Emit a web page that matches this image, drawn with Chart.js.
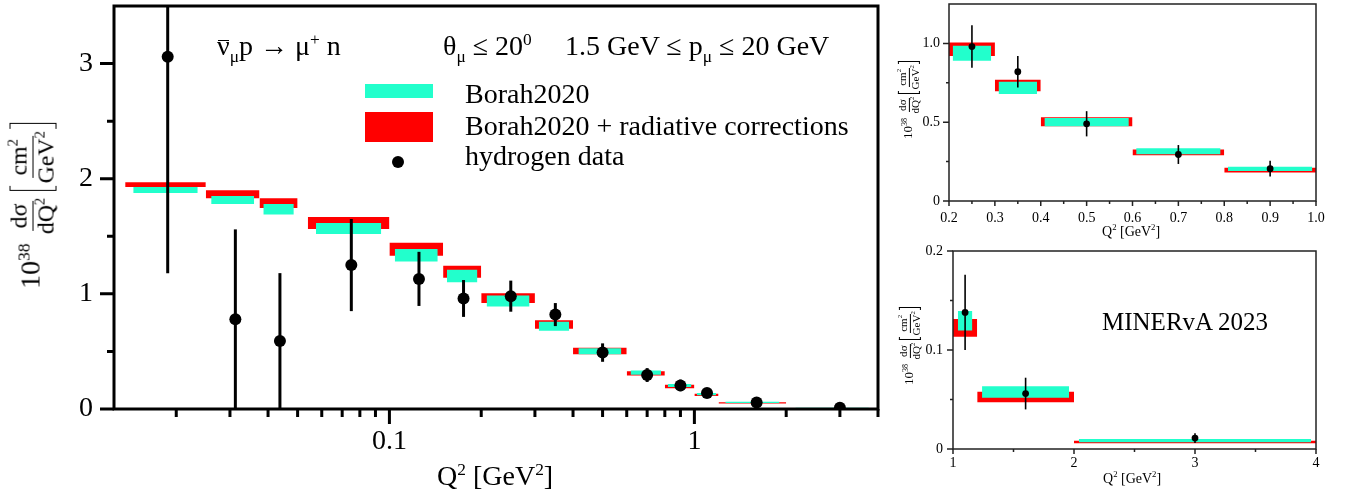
<!DOCTYPE html>
<html><head><meta charset="utf-8">
<script src="https://cdn.jsdelivr.net/npm/chart.js@4/dist/chart.umd.min.js"></script>
<style>
html,body{margin:0;padding:0;background:#fff;}
body{width:1345px;height:493px;position:relative;overflow:hidden;font-family:"Liberation Serif","Times New Roman",serif;color:#000;}
canvas{position:absolute;}
.t{position:absolute;white-space:nowrap;line-height:1;}
sub,sup{line-height:0;font-size:0.62em;}
.bar{position:relative;}
.bar::after{content:"";position:absolute;left:0.04em;right:0.04em;top:0.36em;border-top:1.5px solid #000;}
.yt{position:absolute;width:0;height:0;}
.yt .inner{position:absolute;left:0;top:0;transform:translate(-50%,-50%) rotate(-90deg);white-space:nowrap;line-height:1;}
.frac{display:inline-flex;flex-direction:column;align-items:center;vertical-align:middle;font-size:0.85em;margin:0 0.1em;}
.frac>span:first-child{border-bottom:1px solid #000;padding:0 0.12em 0.05em;}
.frac>span:last-child{padding-top:0.05em;}
.brk{display:inline-block;vertical-align:middle;height:1.6em;width:0.16em;border:0.06em solid #000;}
.brk.l{border-right:none;margin-left:0.15em;}
.brk.r{border-left:none;}
.sw{position:absolute;}
</style></head>
<body>
<canvas id="cMain" width="890" height="493" style="left:0;top:0"></canvas>
<canvas id="cTop" width="455" height="245" style="left:890px;top:0"></canvas>
<canvas id="cBot" width="455" height="248" style="left:890px;top:245px"></canvas>

<!-- main annotations -->
<div class="t" style="left:217px;top:31.5px;font-size:28px"><span class="bar">ν</span><sub>μ</sub>p → μ<sup>+</sup> n</div>
<div class="t" style="left:443px;top:31.5px;font-size:28px">θ<sub>μ</sub> ≤ 20<sup>0</sup></div>
<div class="t" style="left:565px;top:31.5px;font-size:28px">1.5 GeV ≤ p<sub>μ</sub> ≤ 20 GeV</div>
<div class="sw" style="left:365px;top:84px;width:68px;height:14px;background:#22FFCC"></div>
<div class="sw" style="left:365px;top:112px;width:68px;height:30px;background:#FF0000"></div>
<div class="sw" style="left:392px;top:156px;width:12px;height:12px;border-radius:50%;background:#000"></div>
<div class="t" style="left:465px;top:79.5px;font-size:28px">Borah2020</div>
<div class="t" style="left:465px;top:111.5px;font-size:28px">Borah2020 + radiative corrections</div>
<div class="t" style="left:465px;top:141.5px;font-size:28px">hydrogen data</div>
<div class="t" style="left:437px;top:461.5px;font-size:28px">Q<sup>2</sup> [GeV<sup>2</sup>]</div>
<div class="yt" style="left:33px;top:206px;font-size:28px"><div class="inner">10<sup>38</sup> <span class="frac"><span>dσ</span><span>dQ<sup>2</sup></span></span><span class="brk l"></span><span class="frac"><span>cm<sup>2</sup></span><span>GeV<sup>2</sup></span></span><span class="brk r"></span></div></div>

<!-- top inset annotations -->
<div class="t" style="left:1102px;top:225px;font-size:14px">Q<sup>2</sup> [GeV<sup>2</sup>]</div>
<div class="yt" style="left:909px;top:100px;font-size:13px"><div class="inner">10<sup>38</sup> <span class="frac"><span>dσ</span><span>dQ<sup>2</sup></span></span><span class="brk l"></span><span class="frac"><span>cm<sup>2</sup></span><span>GeV<sup>2</sup></span></span><span class="brk r"></span></div></div>

<!-- bottom inset annotations -->
<div class="t" style="left:1103px;top:472px;font-size:14px">Q<sup>2</sup> [GeV<sup>2</sup>]</div>
<div class="t" style="left:1102px;top:309px;font-size:25px">MINERvA 2023</div>
<div class="yt" style="left:910px;top:346px;font-size:13px"><div class="inner">10<sup>38</sup> <span class="frac"><span>dσ</span><span>dQ<sup>2</sup></span></span><span class="brk l"></span><span class="frac"><span>cm<sup>2</sup></span><span>GeV<sup>2</sup></span></span><span class="brk r"></span></div></div>

<script>
// ---------------- data ----------------
const q2Points   = [0.01875,0.03125,0.04375,0.075,0.125,0.175,0.25,0.35,0.5,0.7,0.9,1.1,1.6,3.0];
const dataXsec   = [3.06,0.78,0.59,1.25,1.13,0.96,0.98,0.82,0.49,0.295,0.205,0.138,0.056,0.011];
const dataErr    = [1.88,0.78,0.59,0.40,0.235,0.16,0.135,0.10,0.08,0.06,0.05,0.038,0.016,0.005];
const binLo      = [0.0136,0.025,0.0375,0.054,0.1,0.15,0.2,0.3,0.4,0.6,0.8,1.0,1.2,2.0];
const binHi      = [0.025,0.0375,0.05,0.1,0.15,0.2,0.3,0.4,0.6,0.8,1.0,1.2,2.0,4.0];
const borahLo    = [1.876,1.78,1.69,1.52,1.28,1.10,0.89,0.679,0.475,0.297,0.19,0.1196,0.0517,0.0068];
const borahHi    = [1.927,1.85,1.78,1.616,1.39,1.21,0.985,0.757,0.527,0.335,0.217,0.1395,0.0635,0.0101];
const radLo      = [1.927,1.83,1.746,1.564,1.33,1.14,0.92,0.696,0.475,0.291,0.181,0.1135,0.0473,0.0057];
const radHi      = [1.97,1.90,1.83,1.668,1.443,1.245,1.005,0.77,0.532,0.327,0.211,0.1314,0.0578,0.0084];

const mainXTicks = [0.1, 1];
const mainXTickLabels = ['0.1', '1'];
const mainYTicks = [0, 1, 2, 3];
const mainYTickLabels = ['0', '1', '2', '3'];
const topXTicks = [0.2,0.3,0.4,0.5,0.6,0.7,0.8,0.9,1.0];
const topXTickLabels = ['0.2','0.3','0.4','0.5','0.6','0.7','0.8','0.9','1.0'];
const topYTicks = [0, 0.5, 1.0];
const topYTickLabels = ['0','0.5','1.0'];
const botXTicks = [1,2,3,4];
const botXTickLabels = ['1','2','3','4'];
const botYTicks = [0, 0.1, 0.2];
const botYTickLabels = ['0','0.1','0.2'];

// minor tick positions
const mainXMinor = [0.02,0.03,0.04,0.05,0.06,0.07,0.08,0.09,0.2,0.3,0.4,0.5,0.6,0.7,0.8,0.9,2,3,4];
const mainYMinor = [0.5,1.5,2.5];
const topXMinor = [0.25,0.35,0.45,0.55,0.65,0.75,0.85,0.95];
const topYMinor = [0.25,0.75];
const botXMinor = [1.5,2.5,3.5];
const botYMinor = [0.05,0.15];

// ---------------- styles ----------------
const FONT = "'Liberation Serif','Times New Roman',serif";
const CYAN = '#22FFCC';
const RED = '#FF0000';
const NONE = 'rgba(0,0,0,0)';

function framePlugin(o) {
  return {
    id: 'frameTicks',
    afterDraw(chart) {
      const {ctx, chartArea: a, scales: {x, y}} = chart;
      ctx.save();
      ctx.strokeStyle = o.color;
      ctx.lineWidth = o.lw;
      ctx.lineCap = 'butt';
      ctx.beginPath();
      o.xMajor.forEach(v => { const p = x.getPixelForValue(v); ctx.moveTo(p, a.bottom); ctx.lineTo(p, a.bottom + o.xMajorLen); });
      o.xMinor.forEach(v => { const p = x.getPixelForValue(v); ctx.moveTo(p, a.bottom); ctx.lineTo(p, a.bottom + o.xMinorLen); });
      o.yMajor.forEach(v => { const p = y.getPixelForValue(v); ctx.moveTo(a.left, p); ctx.lineTo(a.left - o.yMajorLen, p); });
      o.yMinor.forEach(v => { const p = y.getPixelForValue(v); ctx.moveTo(a.left, p); ctx.lineTo(a.left - o.yMinorLen, p); });
      ctx.stroke();
      ctx.strokeRect(a.left, a.top, a.right - a.left, a.bottom - a.top);
      ctx.restore();
    }
  };
}

function build(canvasId, c) {
  const datasets = [];
  const inRange = v => v >= c.xMin - 1e-9 && v <= c.xMax + 1e-9;
  const bins = [];
  for (let i = 0; i < binLo.length; i++) if (inRange(binLo[i]) && inRange(binHi[i])) bins.push(i);
  const pts = [];
  for (let i = 0; i < q2Points.length; i++) if (inRange(q2Points[i])) pts.push(i);

  const addBand = (lo, hi, color, order, shrink) => {
    bins.forEach(i => {
      const [a, b] = shrink(binLo[i], binHi[i]);
      datasets.push({data: [{x: a, y: hi[i]}, {x: b, y: hi[i]}], backgroundColor: color, borderColor: NONE, borderWidth: 0, pointRadius: 0, fill: '+1', order});
      datasets.push({data: [{x: a, y: lo[i]}, {x: b, y: lo[i]}], backgroundColor: NONE, borderColor: NONE, borderWidth: 0, pointRadius: 0, fill: false, order});
    });
  };
  addBand(radLo, radHi, RED, 4, (a, b) => [a, b]);
  addBand(borahLo, borahHi, CYAN, 3, c.shrink);
  pts.forEach(i => {
    datasets.push({data: [{x: q2Points[i], y: dataXsec[i] - dataErr[i]}, {x: q2Points[i], y: dataXsec[i] + dataErr[i]}],
      borderColor: '#000', borderWidth: c.errW, pointRadius: 0, fill: false, order: 2});
  });
  datasets.push({data: pts.map(i => ({x: q2Points[i], y: dataXsec[i]})), showLine: false,
    pointRadius: c.ptR, pointBackgroundColor: '#000', pointBorderColor: '#000', pointBorderWidth: 0, fill: false, order: 1});

  const tickFont = {family: FONT, size: c.fontSize};
  new Chart(document.getElementById(canvasId), {
    type: 'line',
    data: {datasets},
    options: {
      responsive: false, animation: false, devicePixelRatio: 1, events: [],
      layout: {padding: c.pad},
      plugins: {legend: {display: false}, tooltip: {enabled: false}},
      elements: {line: {tension: 0}},
      scales: {
        x: {
          type: c.xType, min: c.xMin, max: c.xMax,
          afterBuildTicks: s => { s.ticks = c.xTicks.map(v => ({value: v})); },
          afterFit: s => { s.height = c.xAxisH; s.paddingLeft = 0; s.paddingRight = 0; s.paddingTop = 0; s.paddingBottom = 0; },
          ticks: {font: tickFont, color: '#000', padding: c.xPad, autoSkip: false, maxRotation: 0, minRotation: 0,
            callback: (v) => { const k = c.xTicks.indexOf(v); return k >= 0 ? c.xLabels[k] : ''; }},
          grid: {display: false, drawTicks: false}, border: {display: false}
        },
        y: {
          type: 'linear', min: c.yMin, max: c.yMax,
          afterBuildTicks: s => { s.ticks = c.yTicks.map(v => ({value: v})); },
          afterFit: s => { s.width = c.yAxisW; s.paddingTop = 0; s.paddingBottom = 0; s.paddingLeft = 0; s.paddingRight = 0; },
          ticks: {font: tickFont, color: '#000', padding: c.yPad, autoSkip: false,
            callback: (v) => { const k = c.yTicks.indexOf(v); return k >= 0 ? c.yLabels[k] : ''; }},
          grid: {display: false, drawTicks: false}, border: {display: false}
        }
      }
    },
    plugins: [framePlugin(c.frame)]
  });
}

// main chart
build('cMain', {
  xType: 'logarithmic', xMin: 0.0125, xMax: 4, yMin: 0, yMax: 3.5,
  xTicks: mainXTicks, xLabels: mainXTickLabels, yTicks: mainYTicks, yLabels: mainYTickLabels,
  fontSize: 28, xPad: 16, yPad: 21, xAxisH: 84, yAxisW: 114,
  pad: {left: 0, top: 4, right: 12, bottom: 0},
  shrink: (a, b) => { const r = Math.pow(b / a, 0.1); return [a * r, b / r]; },
  errW: 3, ptR: 6,
  frame: {color: '#000', lw: 3, xMajor: mainXTicks, xMinor: mainXMinor, yMajor: mainYTicks, yMinor: mainYMinor,
    xMajorLen: 15, xMinorLen: 8, yMajorLen: 14, yMinorLen: 7}
});

// top-right inset
build('cTop', {
  xType: 'linear', xMin: 0.2, xMax: 1.0, yMin: 0, yMax: 1.25,
  xTicks: topXTicks, xLabels: topXTickLabels, yTicks: topYTicks, yLabels: topYTickLabels,
  fontSize: 14, xPad: 9, yPad: 9, xAxisH: 44, yAxisW: 59,
  pad: {left: 0, top: 4, right: 29, bottom: 0},
  shrink: (a, b) => [a + 0.008, b - 0.008],
  errW: 1.6, ptR: 3.4,
  frame: {color: '#222', lw: 1.5, xMajor: topXTicks, xMinor: topXMinor, yMajor: topYTicks, yMinor: topYMinor,
    xMajorLen: 5, xMinorLen: 3, yMajorLen: 6, yMinorLen: 3}
});

// bottom-right inset
build('cBot', {
  xType: 'linear', xMin: 1, xMax: 4, yMin: 0, yMax: 0.2,
  xTicks: botXTicks, xLabels: botXTickLabels, yTicks: botYTicks, yLabels: botYTickLabels,
  fontSize: 14, xPad: 6, yPad: 10, xAxisH: 44, yAxisW: 63,
  pad: {left: 0, top: 6, right: 29, bottom: 0},
  shrink: (a, b) => [a + 0.04, b - 0.04],
  errW: 1.6, ptR: 3.4,
  frame: {color: '#222', lw: 1.5, xMajor: botXTicks, xMinor: botXMinor, yMajor: botYTicks, yMinor: botYMinor,
    xMajorLen: 5, xMinorLen: 3, yMajorLen: 6, yMinorLen: 3}
});
</script>
</body></html>
